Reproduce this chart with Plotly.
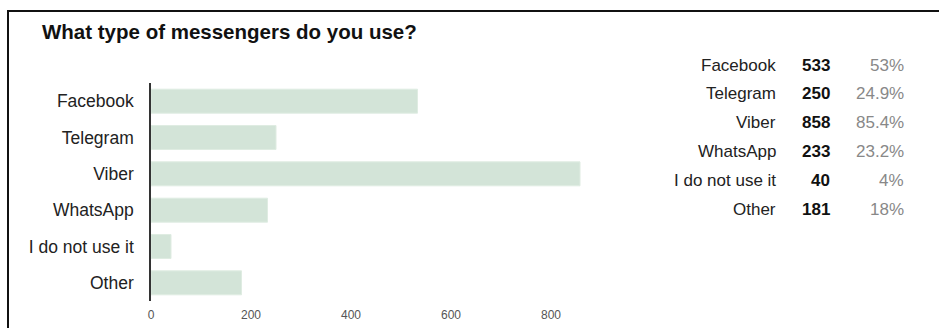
import plotly.graph_objects as go

categories = ["Facebook", "Telegram", "Viber", "WhatsApp", "I do not use it", "Other"]
counts = [533, 250, 858, 233, 40, 181]
percents = [53, 24.9, 85.4, 23.2, 4, 18]
x_ticks = [0, 200, 400, 600, 800]
title_text = "What type of messengers do you use?"

W, H = 939, 328
L, R, T, B = 151, 601, 83, 301  # plot area in pixels

def px(x):
    return (x - L) / (R - L)

def py(y):
    return (B - y) / (B - T)

fig = go.Figure()
fig.add_trace(go.Bar(
    x=counts, y=categories, orientation="h",
    marker=dict(color="#d3e4d8", line=dict(color="#dfece2", width=1)),
    hoverinfo="skip",
))

annotations = []
row_y0, row_step = 65, 28.8
for i, (c, n, p) in enumerate(zip(categories, counts, percents)):
    yy = py(row_y0 + i * row_step)
    annotations.append(dict(x=px(778), y=yy, xref="paper", yref="paper", text=c,
                            showarrow=False, xanchor="right", yanchor="middle",
                            font=dict(family="Liberation Sans, Arial", size=17, color="#222")))
    annotations.append(dict(x=px(832), y=yy, xref="paper", yref="paper", text="<b>%d</b>" % n,
                            showarrow=False, xanchor="right", yanchor="middle",
                            font=dict(family="Liberation Sans, Arial", size=17, color="#111")))
    annotations.append(dict(x=px(906), y=yy, xref="paper", yref="paper", text="%g%%" % p,
                            showarrow=False, xanchor="right", yanchor="middle",
                            font=dict(family="Liberation Sans, Arial", size=17, color="#888")))

shapes = [
    dict(type="line", xref="paper", yref="paper", x0=px(8), y0=py(330), x1=px(8), y1=py(11),
         line=dict(color="#111", width=2)),
    dict(type="line", xref="paper", yref="paper", x0=px(7), y0=py(11), x1=px(945), y1=py(11),
         line=dict(color="#111", width=2)),
]

fig.update_layout(
    width=W, height=H,
    margin=dict(l=L, r=W - R, t=T, b=H - B, pad=0, autoexpand=False),
    paper_bgcolor="white", plot_bgcolor="white",
    showlegend=False,
    bargap=0.34,
    title=dict(text="<b>%s</b>" % title_text, xref="container", yref="container",
               x=42 / W, y=1 - 32 / H, xanchor="left", yanchor="middle",
               font=dict(family="Liberation Sans, Arial", size=20.5, color="#111")),
    xaxis=dict(range=[0, 900], tickvals=x_ticks, showgrid=False, zeroline=False,
               showline=False, ticks="outside", ticklen=3, tickcolor="rgba(0,0,0,0)",
               tickfont=dict(family="Liberation Sans, Arial", size=12, color="#555"),
               automargin=False, fixedrange=True),
    yaxis=dict(autorange="reversed", showgrid=False, zeroline=False,
               showline=True, linecolor="#333", linewidth=1.5,
               ticks="", ticklabelstandoff=12,
               tickfont=dict(family="Liberation Sans, Arial", size=17.5, color="#222"),
               automargin=False, fixedrange=True),
    annotations=annotations,
    shapes=shapes,
)

fig.write_html("out.html")
